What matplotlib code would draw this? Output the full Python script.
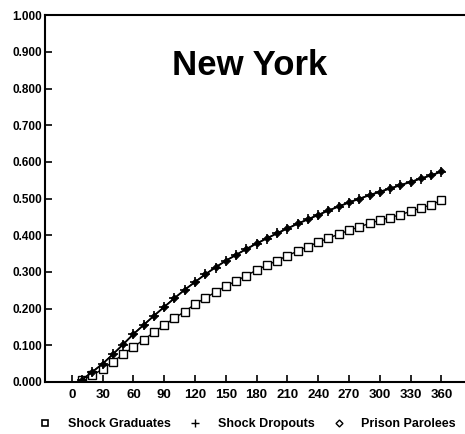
import numpy as np
import matplotlib.pyplot as plt
from matplotlib.ticker import FormatStrFormatter
from matplotlib.lines import Line2D

plt.rcParams['font.family'] = ['Liberation Sans', 'DejaVu Sans']

days = list(range(10, 361, 10))

graduates = [0.005, 0.018, 0.035, 0.055, 0.075, 0.095, 0.115, 0.135, 0.155, 0.174,
             0.192, 0.212, 0.229, 0.245, 0.261, 0.275, 0.290, 0.305, 0.318, 0.331,
             0.344, 0.357, 0.369, 0.381, 0.392, 0.403, 0.413, 0.423, 0.432, 0.441,
             0.448, 0.456, 0.465, 0.474, 0.483, 0.495]

dropouts = [0.006, 0.027, 0.049, 0.075, 0.102, 0.130, 0.155, 0.180, 0.204, 0.228,
            0.251, 0.272, 0.293, 0.312, 0.330, 0.346, 0.362, 0.377, 0.391, 0.405,
            0.418, 0.431, 0.443, 0.455, 0.467, 0.478, 0.489, 0.499, 0.509, 0.518,
            0.527, 0.536, 0.545, 0.554, 0.563, 0.573]

parolees = [0.006, 0.028, 0.050, 0.076, 0.103, 0.131, 0.156, 0.181, 0.205, 0.229,
            0.252, 0.273, 0.294, 0.313, 0.331, 0.347, 0.363, 0.378, 0.392, 0.406,
            0.419, 0.432, 0.444, 0.456, 0.468, 0.479, 0.490, 0.500, 0.510, 0.519,
            0.528, 0.537, 0.546, 0.555, 0.564, 0.574]

x_ticks = list(range(0, 361, 30))
y_ticks = [i / 10 for i in range(11)]

fig = plt.figure(figsize=(4.65, 4.34), dpi=100, facecolor='white')
ax = fig.add_axes([0.097, 0.12, 0.903, 0.845])

ax.plot(days, graduates, color='black', lw=1.0, marker='s', ms=5.5,
        mfc='white', mec='black', mew=1.0, label='Shock Graduates')
ax.plot(days, dropouts, color='black', lw=1.2, marker='+', ms=7,
        mew=1.2, label='Shock Dropouts')
ax.plot(days, parolees, color='black', lw=1.0, marker='D', ms=3.5,
        mfc='black', mec='black', mew=0.8, label='Prison Parolees')

ax.set_xlim(-26, 383)
ax.set_ylim(0, 1.0)
ax.set_xticks(x_ticks)
ax.set_yticks(y_ticks)
ax.yaxis.set_major_formatter(FormatStrFormatter('%.3f'))
ax.tick_params(axis='both', direction='in', length=5, width=1.2)
ax.tick_params(axis='x', pad=5, labelsize=9.5)
ax.tick_params(axis='y', pad=2, labelsize=8.5)
for lab in ax.get_xticklabels() + ax.get_yticklabels():
    lab.set_fontweight('bold')

ax.spines['right'].set_visible(False)
for s in ['top', 'bottom', 'left']:
    ax.spines[s].set_linewidth(1.5)

ax.text(0.488, 0.862, 'New York', transform=ax.transAxes, ha='center', va='center',
        fontsize=25, fontweight='bold')

# legend with markers only
handles = [
    Line2D([], [], ls='none', marker='s', ms=5, mfc='white', mec='black', mew=1.2),
    Line2D([], [], ls='none', marker='+', ms=6, mec='black', mew=1.0),
    Line2D([], [], ls='none', marker='D', ms=3.5, mfc='white', mec='black', mew=1.0),
]
leg = fig.legend(handles, ['Shock Graduates', 'Shock Dropouts', 'Prison Parolees'],
                 loc='center', bbox_to_anchor=(0.532, 0.023), ncol=3, frameon=False,
                 handlelength=1.0, handletextpad=1.3, columnspacing=1.45,
                 prop={'weight': 'bold', 'size': 9})

fig.savefig('out.png', dpi=100, facecolor='white')
